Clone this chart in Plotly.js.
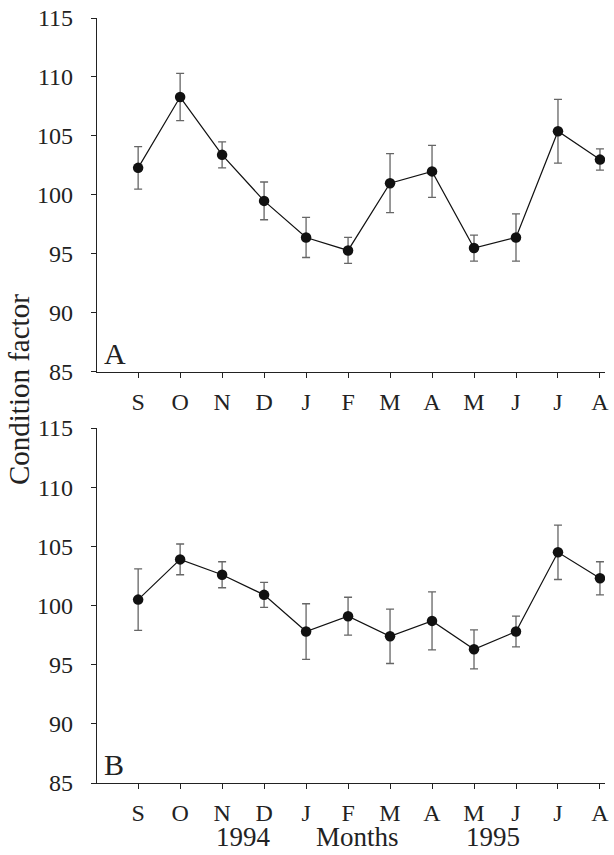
<!DOCTYPE html>
<html>
<head>
<meta charset="utf-8">
<script src="https://cdn.plot.ly/plotly-3.0.1.min.js"></script>
<style>html,body{margin:0;padding:0;background:#fff;}#chart{width:614px;height:855px;}</style>
</head>
<body>
<div id="chart"></div>
<script>
const months = ["S","O","N","D","J","F","M","A","M","J","J","A"];
const monthIndex = [0,1,2,3,4,5,6,7,8,9,10,11];
const seriesA = [102.3,108.3,103.4,99.5,96.4,95.3,101.0,102.0,95.5,96.4,105.4,103.0];
const errorA = [1.8,2.0,1.1,1.6,1.7,1.1,2.5,2.2,1.1,2.0,2.7,0.9];
const seriesB = [100.5,103.9,102.6,100.9,97.8,99.1,97.4,98.7,96.3,97.8,104.5,102.3];
const errorB = [2.6,1.3,1.1,1.05,2.35,1.6,2.3,2.45,1.65,1.3,2.3,1.4];
const yTicks = [85,90,95,100,105,110,115];

const font = "Liberation Serif, Times New Roman, serif";
const ink = "#222";
function trace(y, err, xa, ya){
  return {
    x: monthIndex, y: y, xaxis: xa, yaxis: ya,
    type: "scatter", mode: "lines+markers",
    line: {color: "#111", width: 1.2},
    marker: {color: "#111", size: 10.5},
    error_y: {type: "data", array: err, visible: true, color: "#666", thickness: 1.3, width: 4},
    showlegend: false, hoverinfo: "none"
  };
}
const xbase = {
  range: [-0.98, 11.12], tickmode: "array", tickvals: monthIndex, ticktext: months,
  showline: true, linecolor: ink, linewidth: 1.2, ticks: "outside", ticklen: 5, tickcolor: ink,
  tickfont: {family: font, size: 24, color: ink}, ticklabelstandoff: 3,
  showgrid: false, zeroline: false, fixedrange: true
};
const ybase = {
  range: [85, 115], tickmode: "array", tickvals: yTicks,
  showline: true, linecolor: ink, linewidth: 1.2, ticks: "outside", ticklen: 5, tickcolor: ink,
  tickfont: {family: font, size: 24, color: ink}, ticklabelstandoff: 13,
  showgrid: false, zeroline: false, fixedrange: true
};
function note(text, x, y, size, extra){
  return Object.assign({text: text, xref: "paper", yref: "paper", x: x, y: y,
    xanchor: "center", yanchor: "middle", showarrow: false, borderpad: 0,
    font: {family: font, size: size, color: ink}}, extra || {});
}
const layout = {
  width: 614, height: 855,
  margin: {l: 97, r: 9, t: 18, b: 72},
  paper_bgcolor: "#fff", plot_bgcolor: "#fff",
  xaxis: Object.assign({}, xbase, {domain: [0,1], anchor: "y"}),
  yaxis: Object.assign({}, ybase, {domain: [0.5373, 1], anchor: "x"}),
  xaxis2: Object.assign({}, xbase, {domain: [0,1], anchor: "y2"}),
  yaxis2: Object.assign({}, ybase, {domain: [0, 0.464], anchor: "x2"}),
  annotations: [
    note("Condition factor", -0.153, 0.514, 29, {textangle: -90}),
    note("A", 0.012, 0.004, 30, {xref: "x domain", yref: "y domain", xanchor: "left", yanchor: "bottom"}),
    note("B", 0.012, 0.004, 30, {xref: "x2 domain", yref: "y2 domain", xanchor: "left", yanchor: "bottom"}),
    note("1994", 0.289, -0.0712, 27),
    note("Months", 0.512, -0.0712, 27),
    note("1995", 0.780, -0.0712, 27)
  ]
};
Plotly.newPlot("chart", [trace(seriesA, errorA, "x", "y"), trace(seriesB, errorB, "x2", "y2")], layout, {staticPlot: true});
</script>
</body>
</html>
